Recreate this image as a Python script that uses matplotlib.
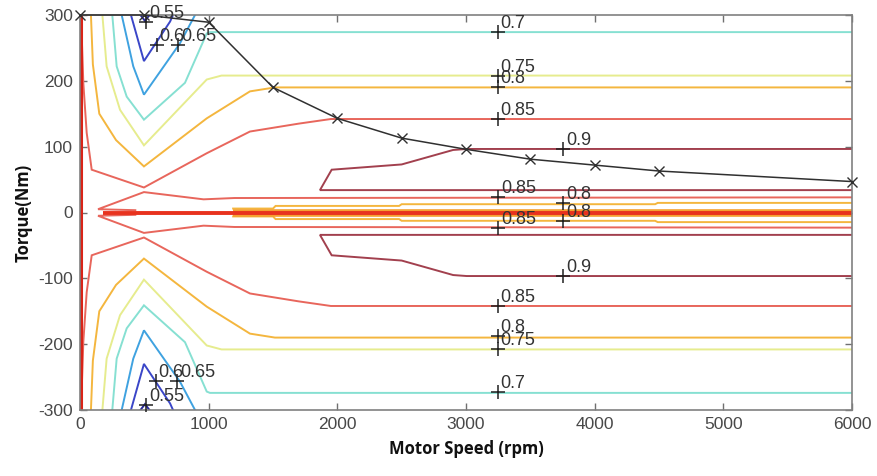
import matplotlib
matplotlib.use("Agg")
import matplotlib.pyplot as plt

plt.rcParams["axes.unicode_minus"] = False

# ---------------- data ----------------
# Upper-half contour polylines (speed in rpm, torque in Nm); the map is
# symmetric about T = 0, lower half uses the same points with -T.
eff_055_x = [470, 505, 540]
eff_055_y = [300, 291, 300]
eff_060_x = [396, 497, 700, 723]
eff_060_y = [300, 230, 290, 300]
eff_065_x = [324, 414, 497, 777, 894]
eff_065_y = [300, 222, 179, 257, 300]
eff_070_x = [251, 285, 363, 497, 816, 985, 1010, 6000]
eff_070_y = [300, 222, 176, 141, 197, 272, 274, 274]
eff_075_x = [174, 207, 311, 497, 985, 1100, 6000]
eff_075_y = [300, 222, 156, 102, 202, 208, 208]
eff_080_x = [85, 100, 150, 280, 497, 985, 1321, 1515, 6000]
eff_080_y = [300, 225, 150, 110, 70, 143, 184, 190, 190]
eff_085_x = [15, 26, 52, 91, 497, 985, 1321, 1700, 1950, 6000]
eff_085_y = [260, 196, 121, 65, 38, 90, 123, 135, 142, 142]
eff_090_x = [6000, 3005, 2900, 2500, 1956, 1865, 6000]
eff_090_y = [96.5, 96.5, 95, 73, 65, 34, 34]
# contours squeezed around zero torque
eff_085_mid_x = [6000, 1200, 960, 497, 140, 430]
eff_085_mid_y = [23, 22, 20, 31, 5, 3.5]
eff_080_mid_x = [1190, 1500, 1520, 2480, 2500, 4470, 4490, 6000]
eff_080_mid_y = [6, 6, 10, 10, 12.6, 12.6, 14.6, 14.6]
zero_band_x = [1190, 6000]
zero_line_x = [180, 6000]

# maximum torque envelope
max_speed = [0, 500, 1000, 1500, 2000, 2500, 3000, 3500, 4000, 4500, 6000]
max_torque = [300, 300, 289, 190, 143, 113, 96, 81, 72, 63, 47]

# contour labels
label_text = ["0.55", "0.6", "0.65", "0.7", "0.75", "0.8", "0.85", "0.9", "0.85", "0.8",
              "0.8", "0.85", "0.9", "0.85", "0.8", "0.75", "0.7", "0.65", "0.6", "0.55"]
label_x = [513, 598, 762, 3245, 3245, 3245, 3245, 3756, 3250, 3756,
           3756, 3250, 3756, 3245, 3245, 3245, 3245, 757, 590, 513]
label_y = [289, 255, 255, 274, 208, 190, 142, 96, 24, 14,
           -13, -23, -96, -142, -188, -208, -273, -256, -256, -293]

# ---------------- styling ----------------
col = {
    "055": "#262699",
    "060": "#3a46c8",
    "065": "#3fa2e0",
    "070": "#86e0d2",
    "075": "#e6ec8e",
    "080": "#f4b63e",
    "085": "#e8665c",
    "090": "#a2404e",
}

fig = plt.figure(figsize=(8.78, 4.76), dpi=100)
ax = fig.add_axes([80 / 878, 66 / 476, 772 / 878, 395 / 476])

lw = 1.4
levels = [
    (eff_055_x, eff_055_y, col["055"]),
    (eff_060_x, eff_060_y, col["060"]),
    (eff_065_x, eff_065_y, col["065"]),
    (eff_070_x, eff_070_y, col["070"]),
    (eff_075_x, eff_075_y, col["075"]),
    (eff_080_x, eff_080_y, col["080"]),
    (eff_085_x, eff_085_y, col["085"]),
    (eff_090_x, eff_090_y, col["090"]),
    (eff_085_mid_x, eff_085_mid_y, col["085"]),
    (eff_080_mid_x, eff_080_mid_y, col["080"]),
]
for xs, ys, c in levels:
    ax.plot(xs, ys, color=c, lw=lw, solid_joinstyle="miter")
    ax.plot(xs, [-v for v in ys], color=c, lw=lw, solid_joinstyle="miter")

# zero-torque band and zero-speed edge where all levels collapse
ax.plot(zero_band_x, [0, 0], color="#f5a030", lw=5.5, solid_capstyle="butt")
ax.plot(zero_line_x, [0, 0], color="#e8321e", lw=2.8, solid_capstyle="butt")
ax.plot([10, 10], [-300, 300], color="#d92418", lw=2.2)

# max torque curve
ax.plot(max_speed, max_torque, color="#303030", lw=1.1, marker="x",
        markersize=7, markeredgewidth=1.0, clip_on=False, zorder=5)

# contour labels (MATLAB clabel style: plus marker + text)
ax.plot(label_x, label_y, linestyle="none", marker="+", color="#202020",
        markersize=10, markeredgewidth=1.1, zorder=6, clip_on=False)
for t, x, y in zip(label_text, label_x, label_y):
    ax.annotate(t, (x, y), xytext=(2, 0), textcoords="offset points",
                ha="left", va="bottom", fontsize=13, color="#333333",
                family="Liberation Sans", zorder=7)

ax.set_xlim(0, 6000)
ax.set_ylim(-300, 300)
ax.set_xticks(range(0, 6001, 1000))
ax.set_yticks(range(-300, 301, 100))
ax.tick_params(direction="in", top=True, right=True, length=5, width=1,
               color="#707070", labelsize=12.5, labelcolor="#484848", pad=5)
for lab in ax.get_xticklabels() + ax.get_yticklabels():
    lab.set_family("Liberation Sans")
for s in ax.spines.values():
    s.set_color("#808080")
    s.set_linewidth(1.2)

ax.set_xlabel("Motor Speed (rpm)", fontsize=12, fontweight="bold",
              family="Open Sans", color="#111111", labelpad=6)
ax.set_ylabel("Torque(Nm)", fontsize=12, fontweight="bold",
              family="Open Sans", color="#111111", labelpad=4)

fig.savefig("out.png", dpi=100)
